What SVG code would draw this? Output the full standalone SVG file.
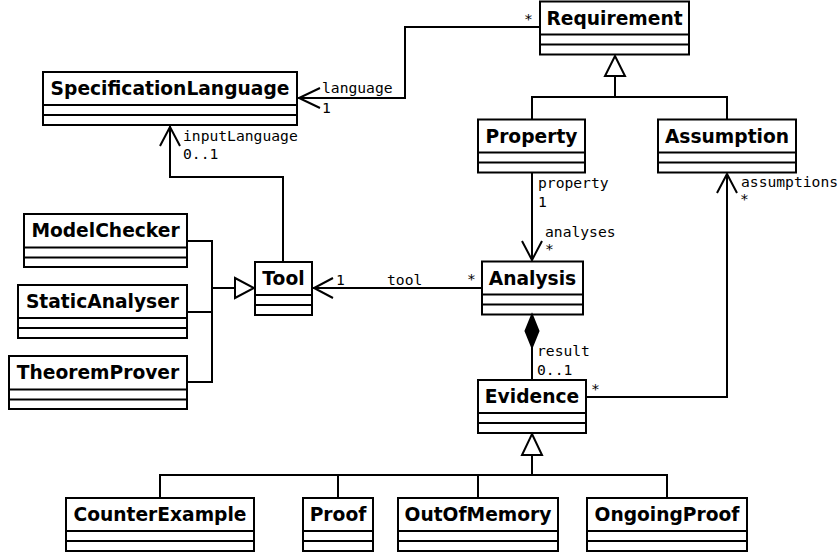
<svg xmlns="http://www.w3.org/2000/svg" width="840" height="556" viewBox="0 0 840 556">
<style>
.box{fill:#fff;stroke:#000;stroke-width:2}
.sep{stroke:#000;stroke-width:2}
.name{font-family:"DejaVu Sans",sans-serif;font-weight:bold;font-size:18.67px;text-anchor:middle;fill:#000}
.lbl{font-family:"DejaVu Sans Mono",monospace;font-size:14.67px;fill:#000}
.ln{fill:none;stroke:#000;stroke-width:2}
.tri{fill:#fff;stroke:#000;stroke-width:2}
.dia{fill:#000;stroke:#000;stroke-width:2}
</style>
<rect width="840" height="556" fill="#fff"/>
<g id="Requirement"><rect class="box" x="540" y="1.5" width="149" height="53"/><line class="sep" x1="540" y1="34.5" x2="689" y2="34.5"/><line class="sep" x1="540" y1="44.5" x2="689" y2="44.5"/><text class="name" x="614.5" y="24.5">Requirement</text></g>
<g id="SpecificationLanguage"><rect class="box" x="43" y="72" width="254" height="53"/><line class="sep" x1="43" y1="105" x2="297" y2="105"/><line class="sep" x1="43" y1="115" x2="297" y2="115"/><text class="name" x="170" y="95">SpecificationLanguage</text></g>
<g id="Property"><rect class="box" x="478" y="119.5" width="107" height="53"/><line class="sep" x1="478" y1="152.5" x2="585" y2="152.5"/><line class="sep" x1="478" y1="162.5" x2="585" y2="162.5"/><text class="name" x="531.5" y="142.5">Property</text></g>
<g id="Assumption"><rect class="box" x="658" y="119.5" width="138" height="53"/><line class="sep" x1="658" y1="152.5" x2="796" y2="152.5"/><line class="sep" x1="658" y1="162.5" x2="796" y2="162.5"/><text class="name" x="727" y="142.5">Assumption</text></g>
<g id="ModelChecker"><rect class="box" x="24" y="214" width="163" height="53"/><line class="sep" x1="24" y1="247.5" x2="187" y2="247.5"/><line class="sep" x1="24" y1="257.5" x2="187" y2="257.5"/><text class="name" x="105.5" y="237">ModelChecker</text></g>
<g id="StaticAnalyser"><rect class="box" x="18" y="285" width="169" height="53"/><line class="sep" x1="18" y1="318" x2="187" y2="318"/><line class="sep" x1="18" y1="328" x2="187" y2="328"/><text class="name" x="102.5" y="308">StaticAnalyser</text></g>
<g id="TheoremProver"><rect class="box" x="9" y="356" width="178" height="53"/><line class="sep" x1="9" y1="389.5" x2="187" y2="389.5"/><line class="sep" x1="9" y1="399.5" x2="187" y2="399.5"/><text class="name" x="98" y="379">TheoremProver</text></g>
<g id="Tool"><rect class="box" x="255" y="262" width="57" height="53"/><line class="sep" x1="255" y1="295" x2="312" y2="295"/><line class="sep" x1="255" y1="305" x2="312" y2="305"/><text class="name" x="283.5" y="285">Tool</text></g>
<g id="Analysis"><rect class="box" x="482" y="261.5" width="101" height="53"/><line class="sep" x1="482" y1="294.5" x2="583" y2="294.5"/><line class="sep" x1="482" y1="304.5" x2="583" y2="304.5"/><text class="name" x="532.5" y="284.5">Analysis</text></g>
<g id="Evidence"><rect class="box" x="478" y="380" width="108" height="53"/><line class="sep" x1="478" y1="413" x2="586" y2="413"/><line class="sep" x1="478" y1="423" x2="586" y2="423"/><text class="name" x="532" y="403">Evidence</text></g>
<g id="CounterExample"><rect class="box" x="66" y="498" width="188" height="53"/><line class="sep" x1="66" y1="531" x2="254" y2="531"/><line class="sep" x1="66" y1="541" x2="254" y2="541"/><text class="name" x="160" y="521">CounterExample</text></g>
<g id="Proof"><rect class="box" x="303" y="498" width="70" height="53"/><line class="sep" x1="303" y1="531" x2="373" y2="531"/><line class="sep" x1="303" y1="541" x2="373" y2="541"/><text class="name" x="338" y="521">Proof</text></g>
<g id="OutOfMemory"><rect class="box" x="398" y="498" width="160" height="53"/><line class="sep" x1="398" y1="531" x2="558" y2="531"/><line class="sep" x1="398" y1="541" x2="558" y2="541"/><text class="name" x="478" y="521">OutOfMemory</text></g>
<g id="OngoingProof"><rect class="box" x="587" y="498" width="160" height="53"/><line class="sep" x1="587" y1="531" x2="747" y2="531"/><line class="sep" x1="587" y1="541" x2="747" y2="541"/><text class="name" x="667" y="521">OngoingProof</text></g>
<g id="connectors">
<polyline class="ln" points="540,27 405,27 405,98 298,98"/>
<polyline class="ln" points="320,88 299,98 320,108"/>
<polygon class="tri" points="615,56 625,76 605,76"/>
<polyline class="ln" points="615,76 615,97"/>
<polyline class="ln" points="532,119 532,97 727,97 727,119"/>
<polyline class="ln" points="283,262 283,177 170,177 170,126"/>
<polyline class="ln" points="160,146 170,127 180,146"/>
<polyline class="ln" points="187,241 212,241 212,382 187,382"/>
<polyline class="ln" points="187,312 212,312"/>
<polyline class="ln" points="212,288 235,288"/>
<polygon class="tri" points="235,278 254,288 235,298"/>
<polyline class="ln" points="482,288 313,288"/>
<polyline class="ln" points="333,278 314,288 333,298"/>
<polyline class="ln" points="532,172 532,260"/>
<polyline class="ln" points="522,241 532,260 542,241"/>
<polygon class="dia" points="532,315 538.5,331 532,347 525.5,331"/>
<polyline class="ln" points="532,347 532,380"/>
<polyline class="ln" points="586,397 727,397 727,174"/>
<polyline class="ln" points="717,193 727,174 737,193"/>
<polygon class="tri" points="532,434 542,455 522,455"/>
<polyline class="ln" points="532,455 532,475"/>
<polyline class="ln" points="160,498 160,475 667,475 667,498"/>
<polyline class="ln" points="338,475 338,498"/>
<polyline class="ln" points="478,475 478,498"/>
</g>
<g id="labels">
<text class="lbl" x="524" y="24">*</text>
<text class="lbl" x="322" y="93">language</text>
<text class="lbl" x="322" y="113">1</text>
<text class="lbl" x="183" y="141">inputLanguage</text>
<text class="lbl" x="183" y="159">0..1</text>
<text class="lbl" x="538" y="188">property</text>
<text class="lbl" x="538" y="207">1</text>
<text class="lbl" x="545" y="237">analyses</text>
<text class="lbl" x="545" y="254">*</text>
<text class="lbl" x="741" y="187">assumptions</text>
<text class="lbl" x="740" y="204">*</text>
<text class="lbl" x="336" y="285">1</text>
<text class="lbl" x="387" y="285">tool</text>
<text class="lbl" x="467" y="284">*</text>
<text class="lbl" x="537" y="356">result</text>
<text class="lbl" x="537" y="375">0..1</text>
<text class="lbl" x="591" y="394">*</text>
</g>
</svg>
